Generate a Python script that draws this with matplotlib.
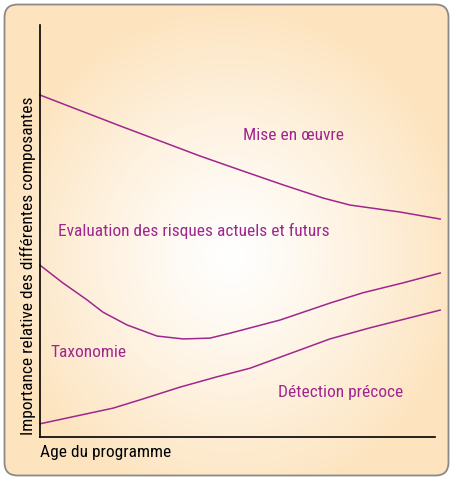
import numpy as np
import matplotlib.pyplot as plt
from matplotlib.patches import FancyBboxPatch
from matplotlib.colors import to_rgb

# curves (x: age of programme, y: relative importance, 0-100)
mise_x = [0, 20.0, 39.9, 49.9, 60.6, 70.6, 77.3, 89.8, 99.8]
mise_y = [83.0, 75.5, 68.2, 64.8, 61.2, 58.0, 56.3, 54.6, 52.9]

eval_x = [0, 5.7, 11.7, 15.7, 21.7, 29.2, 35.7, 42.4, 47.4, 59.9, 72.3, 80.5, 90.5, 99.8]
eval_y = [41.7, 37.4, 33.3, 30.3, 27.2, 24.5, 23.8, 24.0, 25.2, 28.4, 32.5, 35.0, 37.4, 39.8]

detect_x = [0, 18.2, 24.9, 34.9, 44.1, 52.4, 72.3, 82.3, 99.8]
detect_y = [3.2, 7.0, 9.0, 12.1, 14.6, 16.7, 23.8, 26.5, 30.8]

labels = ["Mise en \u0153uvre", "Evaluation des risques actuels et futurs",
          "Taxonomie", "D\u00e9tection pr\u00e9coce"]
label_pos = [(50.6, 72.1), (4.5, 48.8), (2.5, 19.4), (59.4, 9.7)]

xlabel = "Age du programme"
ylabel = "Importance relative des diff\u00e9rentes composantes"

purple = "#a0268e"
peach = "#fde4bf"
fonts = ["Roboto Condensed", "Archivo Narrow", "DejaVu Sans"]

W, H = 452, 479
fig = plt.figure(figsize=(W / 100, H / 100), dpi=100)

# background panel with radial gradient
bg = fig.add_axes([0, 0, 1, 1])
bg.set_xlim(0, W)
bg.set_ylim(H, 0)
bg.axis("off")
yy, xx = np.mgrid[0:H, 0:W]
r = np.sqrt(((xx - 230) / 235.0) ** 2 + ((yy - 255) / 250.0) ** 2)
t = np.clip(r, 0, 1) ** 1.2
c0 = np.array([1.0, 1.0, 1.0])
c1 = np.array(to_rgb(peach))
img = c0[None, None, :] * (1 - t[..., None]) + c1[None, None, :] * t[..., None]
box = FancyBboxPatch((4.5, 4.5), 444, 471, boxstyle="round,pad=0,rounding_size=13",
                     facecolor="none", edgecolor="#8a8a8a", linewidth=1.3)
bg.add_patch(box)
im = bg.imshow(img, extent=(0, W, H, 0), interpolation="bilinear")
im.set_clip_path(box)

ax = fig.add_axes([40 / W, (H - 437) / H, 401 / W, 412 / H])
ax.patch.set_alpha(0)
ax.set_xlim(0, 100)
ax.set_ylim(0, 100)

for xs, ys in [(mise_x, mise_y), (eval_x, eval_y), (detect_x, detect_y)]:
    ax.plot(xs, ys, color=purple, linewidth=1.1, clip_on=False,
            solid_joinstyle="round")

for txt, (lx, ly) in zip(labels, label_pos):
    ax.text(lx, ly, txt, color=purple, fontsize=12.5, family=fonts,
            ha="left", va="baseline")

ax.spines["top"].set_visible(False)
ax.spines["right"].set_visible(False)
ax.spines["left"].set_linewidth(1.2)
ax.spines["bottom"].set_linewidth(1.2)
ax.spines["bottom"].set_bounds(0, 98.5)
ax.set_xticks([])
ax.set_yticks([])

fig.text(40 / W, 1 - 457 / H, xlabel, fontsize=12.5, family=fonts,
         ha="left", va="baseline", color="black")
fig.text(28 / W, 1 - 266 / H, ylabel, fontsize=12.5, family=fonts,
         rotation=90, ha="center", va="center", color="black")

fig.savefig("out.png", dpi=100)
